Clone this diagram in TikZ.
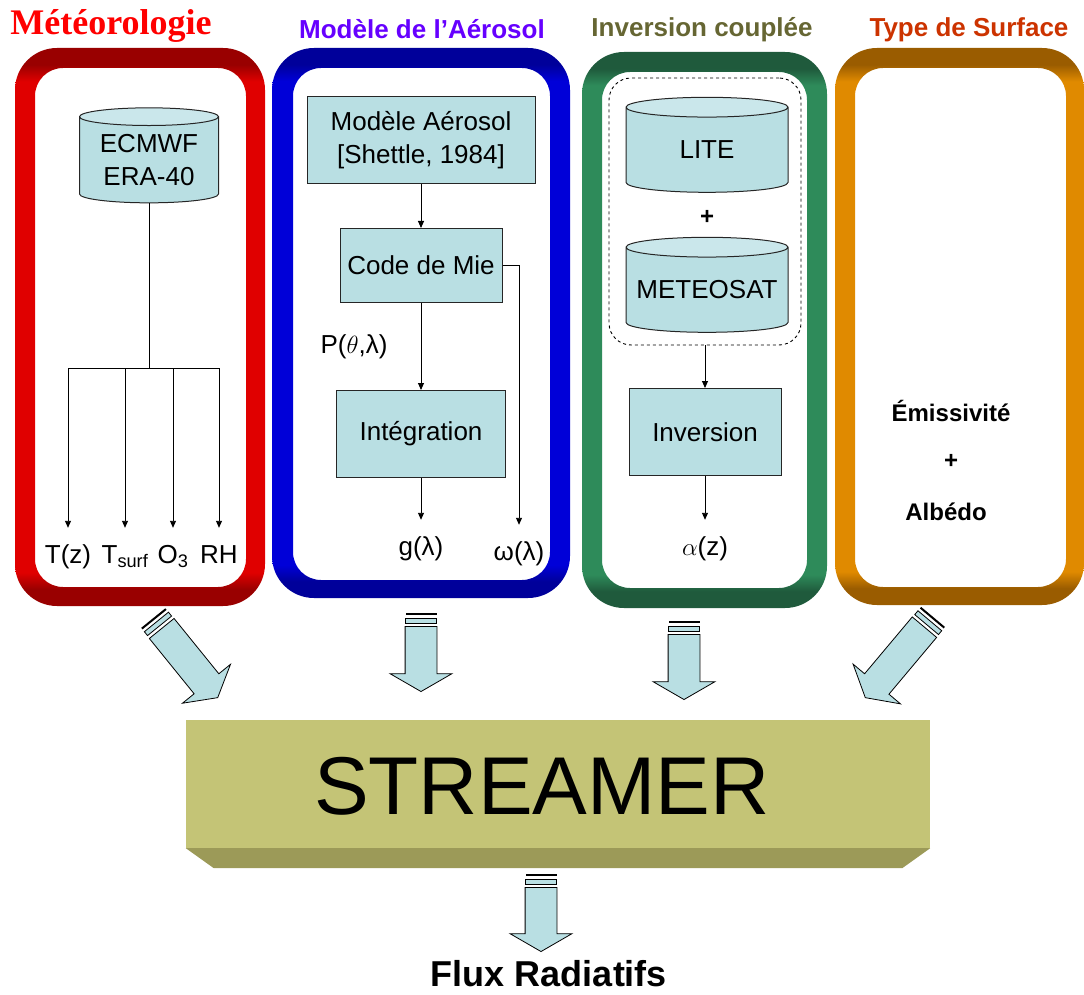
\documentclass[tikz,border=0pt]{standalone}
\usepackage{fontspec}
\setmainfont{Liberation Sans}
\newfontfamily\titleserif{Liberation Serif}
\usetikzlibrary{positioning,arrows.meta,shapes.geometric,shapes.arrows,calc}
\definecolor{boxbl}{HTML}{B9DFE3}
\definecolor{boxtop}{HTML}{CAE7EB}
\definecolor{strface}{HTML}{C4C476}
\definecolor{strbev}{HTML}{9C9A58}
\definecolor{tmet}{HTML}{FF0000}
\definecolor{taer}{HTML}{6600FF}
\definecolor{tinv}{HTML}{666633}
\definecolor{tsurf}{HTML}{CC3300}
\definecolor{rdk}{HTML}{990000}
\definecolor{rbr}{HTML}{E00000}
\definecolor{bdk}{HTML}{00009A}
\definecolor{bbr}{HTML}{0000D8}
\definecolor{gdk}{HTML}{1F5A3C}
\definecolor{gbr}{HTML}{2E8B5A}
\definecolor{odk}{HTML}{9A5C00}
\definecolor{obr}{HTML}{E08A00}
\pgfdeclareverticalshading{redring}{100bp}{color(0bp)=(rdk); color(26.5bp)=(rdk); color(28bp)=(rbr); color(72bp)=(rbr); color(73.5bp)=(rdk); color(100bp)=(rdk)}
\pgfdeclareverticalshading{bluering}{100bp}{color(0bp)=(bdk); color(26.5bp)=(bdk); color(28bp)=(bbr); color(72bp)=(bbr); color(73.5bp)=(bdk); color(100bp)=(bdk)}
\pgfdeclareverticalshading{greenring}{100bp}{color(0bp)=(gdk); color(26.5bp)=(gdk); color(28bp)=(gbr); color(72bp)=(gbr); color(73.5bp)=(gdk); color(100bp)=(gdk)}
\pgfdeclareverticalshading{orangering}{100bp}{color(0bp)=(odk); color(26.5bp)=(odk); color(28bp)=(obr); color(72bp)=(obr); color(73.5bp)=(odk); color(100bp)=(odk)}
\newcommand{\fsz}[2]{\fontsize{#1}{#2}\selectfont}
% block arrow with striped tail: name, tip, angle, length
\newcommand{\fatarrow}[4]{%
  \node[fatarr, rotate=#3, minimum height=#4, anchor=tip] (#1) at (#2) {};
  \begin{scope}[shift={(#1.tail)}, rotate=#3]
    \filldraw[fill=boxbl, draw=black, line width=0.8pt] (-8,-15.5) rectangle (-3,15.5);
    \draw[line width=2pt] (-12,-15.5) -- (-12,15.5);
  \end{scope}}
\tikzset{
  ttl/.style={inner sep=0pt, font=\bfseries\fsz{26}{30}},
  proc/.style={rectangle, draw=black!85, fill=boxbl, line width=1pt, align=center,
               inner sep=0pt, font=\fsz{26}{33}},
  db/.style={cylinder, shape border rotate=90, aspect=0.25, draw=black!85, line width=1pt,
             cylinder uses custom fill, cylinder body fill=boxbl, cylinder end fill=boxtop,
             align=center, inner sep=0pt, font=\fsz{26}{33}},
  val/.style={inner sep=0pt, text height=20pt, text depth=6pt, font=\fsz{26}{30}},
  surf/.style={inner sep=0pt, font=\bfseries\fsz{24}{28}},
  link/.style={-{Triangle[length=7pt,width=6pt]}, line width=0.9pt},
  toval/.style={link, shorten >=15pt},
  grp/.style={draw, dashed, line width=0.9pt, rounded corners=22pt},
  fatarr/.style={single arrow, draw=black, line width=0.8pt, fill=boxbl,
                 inner xsep=0pt, inner ysep=15.5pt,
                 single arrow head extend=15pt, single arrow tip angle=120}
}
\begin{document}
\begin{tikzpicture}[x=1pt, y=-1pt]
\useasboundingbox (0,0) rectangle (1084,995);
% frames
\shade[shading=redring, even odd rule] [rounded corners=42pt] (15,48) rectangle (265,606)
  [rounded corners=28pt] (35,68) rectangle (246,587);
\shade[shading=bluering, even odd rule] [rounded corners=42pt] (272,48) rectangle (570,598)
  [rounded corners=28pt] (293,68) rectangle (550,580);
\shade[shading=greenring, even odd rule] [rounded corners=42pt] (582,52) rectangle (827,608)
  [rounded corners=28pt] (602,72) rectangle (807,588);
\shade[shading=orangering, even odd rule] [rounded corners=42pt] (835,48) rectangle (1084,605)
  [rounded corners=28pt] (855,68) rectangle (1066,587);
% titles
\node[ttl, text=tmet, font=\titleserif\bfseries\fsz{36}{40}] (tmeteo) at (111,26) {Météorologie};
\node[ttl, text=taer] (taero) at (422,29) {Modèle de l’Aérosol};
\node[ttl, text=tinv] (tinver) at (702,30) {Inversion couplée};
\node[ttl, text=tsurf] (tsurfc) at (969,30) {Type de Surface};
% meteorologie
\node[db, aspect=0.18, minimum width=139pt, minimum height=95pt] (ecm) at (149,160) {ECMWF\\ERA-40};
\coordinate (split) at (149,368);
\node[val] (tz) at (68,556) {T(z)};
\node[val] (ts) at (125,556) {T\textsubscript{surf}};
\node[val] (o3) at (173,556) {O\textsubscript{3}};
\node[val] (rh) at (219,556) {RH};
\draw[line width=0.9pt] (ecm) -- (split);
\draw[toval] (split) -| (tz);
\draw[toval] (split) -| (ts);
\draw[toval] (split) -| (o3);
\draw[toval] (split) -| (rh);
% aerosol
\node[proc, minimum width=228pt, minimum height=87pt] (aer) at (421,140) {Modèle Aérosol\\{[}Shettle, 1984{]}};
\node[proc, minimum width=162pt, minimum height=74pt, below=44pt of aer] (mie) {Code de Mie};
\node[proc, minimum width=169pt, minimum height=87pt, below=87pt of mie] (integ) {Intégration};
\node[val] (gl) at (421,548) {g(λ)};
\node[val] (om) at (519,553) {ω(λ)};
\draw[link] (aer) -- (mie);
\draw[link] (mie) -- node[val, left=33pt, pos=0.5] (pth) {P($\theta$,λ)} (integ);
\draw[toval] (integ) -- (gl);
\draw[toval] (mie.east) -| (om);
% inversion
\node[grp, minimum width=192pt, minimum height=267pt] (grp) at (705,211.5) {};
\node[db, aspect=0.36, minimum width=162pt, minimum height=95pt] (lite) at (707,150) {LITE};
\node[surf] (plus1) at (707,217) {+};
\node[db, aspect=0.14, minimum width=162pt, minimum height=95pt] (meteo) at (707,290) {METEOSAT};
\node[proc, minimum width=152pt, minimum height=87pt] (inv) at (705,432) {Inversion};
\node[val] (al) at (705,548) {$\alpha$(z)};
\draw[link] (grp) -- (inv);
\draw[toval] (inv) -- (al);
% surface
\node[surf] (emi) at (951,411) {Émissivité};
\node[surf] (plus2) at (951,461) {+};
\node[surf] (alb) at (946,512) {Albédo};
% streamer
\node[fill=strface, minimum width=744pt, minimum height=128pt, inner sep=0pt] (str) at (558,784) {};
\node[inner sep=0pt, font=\fsz{82}{90}] (strtxt) at (542,786) {STREAMER};
\fill[strbev] (str.south west) -- (str.south east) -- ++(-28,20)
  -- ($(str.south west)+(28,20)$) -- cycle;
% block arrows
\fatarrow{ametf}{218,698}{-51}{89}
\fatarrow{aaerf}{421,692}{-90}{65}
\fatarrow{ainvf}{684,700}{-90}{65}
\fatarrow{asurff}{865,698}{-130}{92}
\fatarrow{aflux}{541,952}{-90}{64}
\node[inner sep=0pt, font=\bfseries\fsz{36}{40}] (flux) at (549,974) {Flux Radiatifs};
\end{tikzpicture}
\end{document}
